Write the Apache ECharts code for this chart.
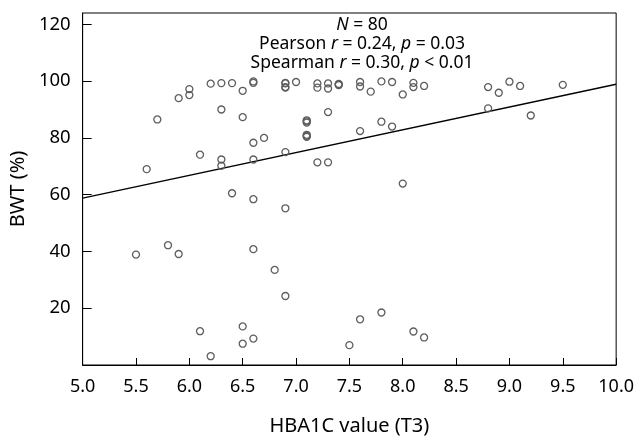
<!DOCTYPE html>
<html>
<head>
<meta charset="utf-8">
<script src="https://cdn.jsdelivr.net/npm/echarts@6/dist/echarts.min.js"></script>
<style>html,body{margin:0;padding:0;background:#fff}#c{width:637px;height:441px}</style>
</head>
<body>
<div id="c"></div>
<script>
// HbA1c (T3) values
const hba1c = [6.0,6.0,5.9,6.2,6.3,6.4,6.6,6.6,6.5,5.7,6.3,6.5,6.6,6.7,6.1,6.3,6.3,6.6,5.6,
  6.9,6.9,6.9,7.0,7.2,7.2,7.3,7.3,7.4,7.4,7.6,7.6,7.7,7.8,7.9,8.0,8.1,8.1,8.2,
  7.3,7.1,7.1,7.1,7.1,6.9,7.8,7.9,7.6,7.2,7.3,8.0,
  8.8,8.9,9.0,9.1,9.5,8.8,9.2,
  6.4,6.6,5.8,5.9,5.5,6.6,6.8,6.1,6.5,6.6,6.5,6.2,6.9,6.9,7.8,7.6,8.1,8.2,7.5,
  6.9,7.4,7.1,7.1];
// BWT (%) values
const bwt = [97.2,95.1,94.0,99.1,99.3,99.3,99.4,99.9,96.6,86.5,90.0,87.3,78.3,80.0,74.1,72.4,70.2,72.4,69.0,
  99.2,97.7,97.9,99.7,99.2,97.7,99.2,97.4,98.8,99.0,99.7,98.1,96.3,99.9,99.7,95.3,99.4,97.9,98.3,
  89.1,85.8,86.2,80.7,81.1,75.0,85.7,84.0,82.4,71.4,71.4,63.9,
  97.9,95.9,99.8,98.3,98.7,90.4,87.9,
  60.5,58.4,42.2,39.1,38.9,40.8,33.5,11.9,13.6,9.3,7.5,3.1,55.2,24.3,18.5,16.1,11.8,9.7,7.0,
  99.4,98.6,85.4,80.4];
// regression line endpoints
const fitX = [5.0, 10.0];
const fitY = [58.8, 98.9];
const xTicks = [5.0,5.5,6.0,6.5,7.0,7.5,8.0,8.5,9.0,9.5,10.0];
const yTicks = [20,40,60,80,100,120];

const FONT = '"Noto Sans", "Open Sans", sans-serif';
const chart = echarts.init(document.getElementById('c'));
const pts = hba1c.map((x,i)=>[x,bwt[i]]);
const fit = fitX.map((x,i)=>[x,fitY[i]]);
const FS = 17.5;
const txtStyle = (t, y) => ({
  type:'text', x: 362, y: y,
  style:{ text:t, fontSize:FS, fontFamily:FONT, fill:'#000', align:'center', verticalAlign:'middle',
    rich:{ i:{fontStyle:'italic', fontSize:FS, fontFamily:FONT, fill:'#000'}, n:{fontSize:FS, fontFamily:FONT, fill:'#000'} } },
  z: 100
});
chart.setOption({
  animation:false,
  backgroundColor:'#fff',
  grid:{ left:81, right:18, top:13, bottom:71, show:true, borderColor:'#000', borderWidth:1, backgroundColor:'transparent' },
  xAxis:{
    type:'value', min:5, max:10, interval:0.5,
    name:'HBA1C value (T3)', nameLocation:'middle', nameGap:51,
    nameTextStyle:{ fontSize:20, fontFamily:FONT, color:'#000' },
    axisLine:{ show:true, lineStyle:{ color:'#000', width:1 } },
    axisTick:{ show:true, inside:true, length:7, lineStyle:{ color:'#000' } },
    axisLabel:{ fontSize:18, fontFamily:FONT, color:'#000', margin:13,
      customValues: xTicks, formatter: v => v.toFixed(1) },
    splitLine:{ show:false }
  },
  yAxis:{
    type:'value', min:0, max:124,
    name:'BWT (%)', nameLocation:'middle', nameGap:52, nameRotate:90,
    nameTextStyle:{ fontSize:20, fontFamily:FONT, color:'#000' },
    axisLine:{ show:true, lineStyle:{ color:'#000', width:1 } },
    axisTick:{ show:true, inside:true, length:9, customValues: yTicks, lineStyle:{ color:'#000' } },
    axisLabel:{ fontSize:18.5, fontFamily:FONT, color:'#000', margin:12, customValues: yTicks },
    splitLine:{ show:false }
  },
  series:[
    { type:'line', data:fit, symbol:'none', lineStyle:{ color:'#000', width:1.3 }, z:1, silent:true },
    { type:'scatter', data:pts, symbol:'circle', symbolSize:7,
      itemStyle:{ color:'rgba(255,255,255,0)', borderColor:'#5e5e5e', borderWidth:1.3, opacity:1 }, z:2 }
  ],
  graphic:[
    txtStyle('{i|N}{n| = 80}', 25),
    txtStyle('{n|Pearson }{i|r}{n| = 0.24, }{i|p}{n| = 0.03}', 44),
    txtStyle('{n|Spearman }{i|r}{n| = 0.30, }{i|p}{n| < 0.01}', 63)
  ]
});
</script>
</body>
</html>
